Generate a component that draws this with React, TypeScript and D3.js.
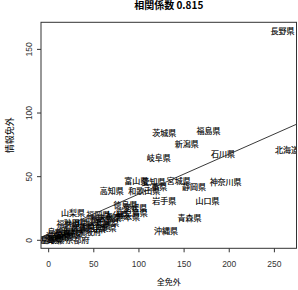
import { useEffect, useRef } from 'react'
import * as d3 from 'd3'

// 都道府県ごとの値 (全免外, 情報免外) - 図から読み取り
const prefs = [
  '北海道', '青森県', '岩手県', '宮城県', '秋田県', '山形県', '福島県', '茨城県', '栃木県', '群馬県',
  '埼玉県', '千葉県', '東京都', '神奈川県', '新潟県', '富山県', '石川県', '福井県', '山梨県', '長野県',
  '岐阜県', '静岡県', '愛知県', '三重県', '滋賀県', '京都府', '大阪府', '兵庫県', '奈良県', '和歌山県',
  '鳥取県', '島根県', '岡山県', '広島県', '山口県', '徳島県', '香川県', '愛媛県', '高知県', '福岡県',
  '佐賀県', '長崎県', '熊本県', '大分県', '宮崎県', '鹿児島県', '沖縄県',
]
const totalVals = [
  264, 156, 128, 144, 30, 45, 177, 128, 60, 38,
  55, 62, 20, 196, 153, 97, 193, 22, 27, 259,
  122, 161, 116, 118, 10, 32, 45, 65, 8, 106,
  4, 12, 50, 67, 176, 85, 15, 96, 70, 55,
  2, 28, 88, 75, 25, 92, 130,
]
const infoVals = [
  71, 17.7, 31, 47, 14, 15, 86.5, 85, 17, 11,
  12, 10, 6, 46, 76, 47, 68, 13, 22, 164.7,
  65, 42, 46.5, 42, 4, 0.5, 7, 14, 2, 39,
  0.5, 7, 9, 18, 31, 28.5, 3, 26, 39, 20,
  0.3, 8, 19, 20, 5, 22, 8,
]
const xTicks = [0, 50, 100, 150, 200, 250]
const yTicks = [0, 50, 100, 150]
const fitIntercept = 5.0
const fitSlope = 0.314
const corr = '0.815'

const W = 298
const H = 290
const cjk = '"Noto Sans CJK JP", "Liberation Sans", sans-serif'
const latin = '"Liberation Sans", Arial, sans-serif'

export default function App() {
  const ref = useRef<SVGSVGElement | null>(null)
  useEffect(() => {
    const svg = d3.select(ref.current)
    svg.selectAll('*').remove()
    const box = { left: 41, right: 296.5, top: 22.3, bottom: 248.3 }
    const ext = (v: number[]) => {
      const lo = d3.min(v) ?? 0
      const hi = d3.max(v) ?? 1
      const pad = (hi - lo) * 0.04
      return [lo - pad, hi + pad]
    }
    const x = d3.scaleLinear().domain(ext(totalVals)).range([box.left, box.right])
    const y = d3.scaleLinear().domain(ext(infoVals)).range([box.bottom, box.top])
    const ink = '#000'

    svg.append('rect').attr('width', W).attr('height', H).attr('fill', '#fff')

    svg.append('defs').append('clipPath').attr('id', 'plotclip')
      .append('rect')
      .attr('x', box.left).attr('y', box.top)
      .attr('width', box.right - box.left).attr('height', box.bottom - box.top)

    const plot = svg.append('g').attr('clip-path', 'url(#plotclip)')

    const pts = prefs.map((name, i) => ({ name, a: totalVals[i], b: infoVals[i] }))
    plot.selectAll(null)
      .data(pts)
      .enter()
      .append('text')
      .attr('x', (d) => x(d.a))
      .attr('y', (d) => y(d.b))
      .attr('text-anchor', 'middle')
      .attr('dominant-baseline', 'central')
      .attr('font-family', cjk)
      .attr('font-size', 8)
      .attr('fill', ink)
      .attr('stroke', ink)
      .attr('stroke-width', 0.15)
      .text((d) => d.name)

    const [x0, x1] = x.domain()
    plot.append('line')
      .attr('x1', x(x0)).attr('y1', y(fitIntercept + fitSlope * x0))
      .attr('x2', x(x1)).attr('y2', y(fitIntercept + fitSlope * x1))
      .attr('stroke', '#222').attr('stroke-width', 0.9)

    svg.append('rect')
      .attr('x', box.left).attr('y', box.top)
      .attr('width', box.right - box.left).attr('height', box.bottom - box.top)
      .attr('fill', 'none').attr('stroke', '#333').attr('stroke-width', 1)

    // x axis
    const xa = svg.append('g')
    xa.selectAll(null).data(xTicks).enter().append('line')
      .attr('x1', (d) => x(d)).attr('x2', (d) => x(d))
      .attr('y1', box.bottom).attr('y2', box.bottom + 4)
      .attr('stroke', '#333')
    xa.selectAll(null).data(xTicks).enter().append('text')
      .attr('x', (d) => x(d)).attr('y', 266.5)
      .attr('text-anchor', 'middle')
      .attr('font-family', latin).attr('font-size', 8.5).attr('fill', '#333')
      .text((d) => String(d))

    // y axis
    const ya = svg.append('g')
    ya.selectAll(null).data(yTicks).enter().append('line')
      .attr('y1', (d) => y(d)).attr('y2', (d) => y(d))
      .attr('x1', box.left).attr('x2', box.left - 4)
      .attr('stroke', '#333')
    ya.selectAll(null).data(yTicks).enter().append('text')
      .attr('transform', (d) => `translate(32,${y(d)}) rotate(-90)`)
      .attr('text-anchor', 'middle')
      .attr('font-family', latin).attr('font-size', 8.5).attr('fill', '#333')
      .text((d) => String(d))

    svg.append('text')
      .attr('x', (box.left + box.right) / 2).attr('y', 285)
      .attr('text-anchor', 'middle')
      .attr('font-family', cjk).attr('font-size', 8).attr('fill', ink)
      .text('全免外')

    svg.append('text')
      .attr('transform', `translate(13,${(box.top + box.bottom) / 2}) rotate(-90)`)
      .attr('text-anchor', 'middle')
      .attr('font-family', cjk).attr('font-size', 9).attr('fill', ink)
      .text('情報免外')

    svg.append('text')
      .attr('x', (box.left + box.right) / 2).attr('y', 8.5)
      .attr('text-anchor', 'middle')
      .attr('font-family', cjk).attr('font-size', 10).attr('font-weight', 'bold').attr('fill', ink)
      .text(`相関係数  ${corr}`)
  }, [])
  return (
    <svg ref={ref} width={W} height={H} style={{ position: 'absolute', left: 0, top: 0, display: 'block' }} />
  )
}
